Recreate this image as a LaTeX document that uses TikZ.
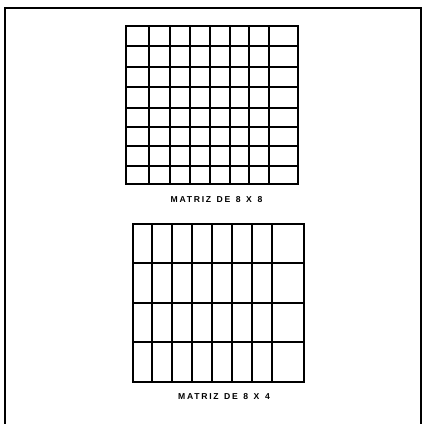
\documentclass[tikz,border=0pt]{standalone}
\usepackage{fontspec}
\newfontfamily\lbl[LetterSpace=20,WordSpace=1.35]{Liberation Sans Bold}
\begin{document}
\begin{tikzpicture}[x=1pt,y=-1pt,
  gridline/.style={line width=1.8pt,line cap=rect},
  frameline/.style={line width=1.5pt},
  caption/.style={font=\lbl\fontsize{8.6}{10}\selectfont,inner sep=0pt}]
\useasboundingbox (0,0) rectangle (423,424);
\fill[white] (0,0) rectangle (423,424);
% outer frame
\coordinate (fbl) at (5,424);
\coordinate (ftl) at (5,8);
\coordinate (ftr) at (421,8);
\coordinate (fbr) at (421,424);
\draw[frameline] (fbl) -- (ftl) -- (ftr) -- (fbr);
% grid 8x8
\foreach \x in {126,149,170,190,210,230,249,269,298}
  \draw[gridline] (\x,25.7) -- (\x,184.3);
\foreach \y in {25.7,45.7,66.7,87.3,107.7,126.7,146,165.7,184.3}
  \draw[gridline] (126,\y) -- (298,\y);
\node[caption] (c1) at (216.5,200) {MATRIZ DE 8 X 8};
% grid 8x4
\foreach \x in {133.3,152.3,172.3,192.3,212.3,232.3,252.3,272.3,304}
  \draw[gridline] (\x,224) -- (\x,381.7);
\foreach \y in {224,263.3,303.3,341.7,381.7}
  \draw[gridline] (133.3,\y) -- (304,\y);
\node[caption] (c2) at (224,396.7) {MATRIZ DE 8 X 4};
\end{tikzpicture}
\end{document}
